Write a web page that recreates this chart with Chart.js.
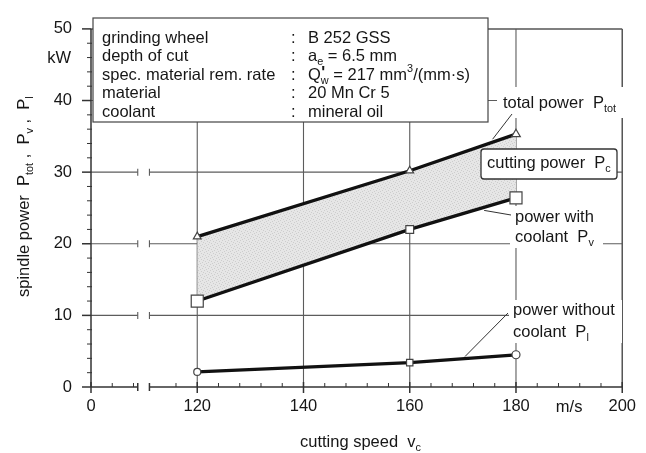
<!DOCTYPE html>
<html>
<head>
<meta charset="utf-8">
<script src="https://cdn.jsdelivr.net/npm/chart.js@4/dist/chart.umd.min.js"></script>
<style>
  html, body { margin: 0; padding: 0; background: #fff; }
  #wrap { width: 646px; height: 453px; }
</style>
</head>
<body>
<div id="wrap"><canvas id="c" width="646" height="453"></canvas></div>
<script>
// ---- data ----
const speeds = [120, 160, 180];                 // cutting speed v_c, m/s
const totalPower = [21.0, 30.2, 35.3];          // P_tot, kW
const powerWithCoolant = [12.0, 22.0, 26.4];    // P_v, kW
const powerWithoutCoolant = [2.1, 3.4, 4.5];    // P_l, kW

// x axis is broken: the scale value 100 carries the label "0"
const xTickValues = [100, 120, 140, 160, 180, 200];
const xTickLabels = ['0', '120', '140', '160', '180', '200'];
const yTickValues = [0, 10, 20, 30, 40, 50];
const yTickLabels = ['0', '10', '20', '30', '40', '50'];
const xBreak = [108.8, 111.0];

const paramNames = ['grinding wheel', 'depth of cut', 'spec. material rem. rate', 'material', 'coolant'];
const paramValues = [
  [{ t: 'B 252 GSS' }],
  [{ t: 'a' }, { t: 'e', sub: true }, { t: ' = 6.5 mm' }],
  [{ t: 'Q' }, { t: '\'', prime: true, stack: true }, { t: 'w', sub: true }, { t: ' = 217 mm' }, { t: '3', sup: true }, { t: '/(mm\u00b7s)' }],
  [{ t: '20 Mn Cr 5' }],
  [{ t: 'mineral oil' }]
];

const FONT = '"Liberation Sans", Arial, Helvetica, sans-serif';
const FS = 16.5;
const INK = '#161616';

const canvas = document.getElementById('c');
const ctx0 = canvas.getContext('2d');

// stippled light-grey fill for the cutting-power band
function stipple() {
  const t = document.createElement('canvas');
  t.width = 6; t.height = 6;
  const g = t.getContext('2d');
  g.fillStyle = '#e6e6e6';
  g.fillRect(0, 0, 6, 6);
  g.fillStyle = '#cdcdcd';
  [[0, 0], [3, 1], [1, 3], [5, 2], [4, 4], [2, 5]].forEach(([a, b]) => g.fillRect(a, b, 1, 1));
  return ctx0.createPattern(t, 'repeat');
}

function pts(values) {
  return speeds.map((s, i) => ({ x: s, y: values[i] }));
}

// value of a series at an arbitrary speed (for leader-line anchors)
function along(values, v) {
  for (let i = 0; i < speeds.length - 1; i++) {
    if (v >= speeds[i] && v <= speeds[i + 1]) {
      const f = (v - speeds[i]) / (speeds[i + 1] - speeds[i]);
      return values[i] + f * (values[i + 1] - values[i]);
    }
  }
  return values[values.length - 1];
}

function rich(ctx, parts, x, y, size) {
  let cx = x;
  for (const p of parts) {
    const small = p.sub || p.sup;
    const s = small ? size * 0.66 : size;
    ctx.font = `${p.prime ? 'bold ' : ''}${s}px ${FONT}`;
    let dy = p.sub ? size * 0.34 : (p.sup ? -size * 0.36 : 0);
    if (p.prime) dy = -size * 0.12;
    ctx.fillText(p.t, cx + (p.stack ? 0.5 : 0), y + dy);
    if (!p.stack) cx += ctx.measureText(p.t).width;
  }
  return cx - x;
}

function line(ctx, x1, y1, x2, y2) {
  ctx.beginPath();
  ctx.moveTo(x1, y1);
  ctx.lineTo(x2, y2);
  ctx.stroke();
}

// horizontal line across the plot, interrupted at the axis break
function hBroken(ctx, X, py, bar) {
  const a = X(100), b1 = X(xBreak[0]), b2 = X(xBreak[1]), e = X(200);
  line(ctx, a, py, b1, py);
  line(ctx, b2, py, e, py);
  line(ctx, b1, py - bar, b1, py + bar);
  line(ctx, b2, py - bar, b2, py + bar);
}

const decor = {
  id: 'decor',
  beforeDraw(chart) {
    const { ctx } = chart;
    const xs = chart.scales.x, ys = chart.scales.y;
    const X = v => xs.getPixelForValue(v);
    const Y = v => ys.getPixelForValue(v);
    ctx.save();
    ctx.fillStyle = '#fff';
    ctx.fillRect(0, 0, chart.width, chart.height);

    // grid
    ctx.strokeStyle = '#5c5c5c';
    ctx.lineWidth = 1.1;
    [10, 20, 30, 40].forEach(v => hBroken(ctx, X, Y(v), 3.5));
    [120, 140, 160, 180].forEach(v => line(ctx, X(v), Y(0), X(v), Y(50)));

    // frame: top and right
    ctx.strokeStyle = '#555';
    ctx.lineWidth = 1.5;
    hBroken(ctx, X, Y(50), 3);
    line(ctx, X(200), Y(0), X(200), Y(50));

    // y axis
    ctx.strokeStyle = '#333';
    ctx.lineWidth = 1.5;
    line(ctx, X(100), Y(0), X(100), Y(50));
    yTickValues.forEach(v => line(ctx, X(100) - 9, Y(v), X(100), Y(v)));
    ctx.lineWidth = 1;
    for (let v = 2; v < 50; v += 2) {
      if (v % 10) line(ctx, X(100) - 4, Y(v), X(100) + 1, Y(v));
    }

    // x axis with break
    ctx.lineWidth = 1.5;
    hBroken(ctx, X, Y(0), 4);
    xTickValues.forEach(v => line(ctx, X(v), Y(0) - 5, X(v), Y(0) + 6));
    ctx.lineWidth = 1;
    for (let v = 104; v < 200; v += 4) {
      if (v % 20 === 0) continue;
      if (v > xBreak[0] && v < xBreak[1] + 1.5) continue;
      line(ctx, X(v), Y(0) - 4, X(v), Y(0));
    }
    ctx.restore();
  },
  afterDatasetsDraw(chart) {
    const { ctx } = chart;
    const xs = chart.scales.x, ys = chart.scales.y;
    const X = v => xs.getPixelForValue(v);
    const Y = v => ys.getPixelForValue(v);
    ctx.save();
    ctx.textBaseline = 'middle';
    ctx.textAlign = 'left';
    ctx.fillStyle = INK;

    // ---- parameter box ----
    ctx.fillStyle = '#fff';
    ctx.fillRect(93, 18, 395, 104);
    ctx.strokeStyle = '#444';
    ctx.lineWidth = 1.2;
    ctx.strokeRect(93, 18, 395, 104);
    ctx.fillStyle = INK;
    paramNames.forEach((n, i) => {
      const ry = 38 + i * 18.5;
      ctx.font = `${FS}px ${FONT}`;
      ctx.fillText(n, 102, ry);
      ctx.fillText(':', 291, ry);
      rich(ctx, paramValues[i], 308, ry, FS);
    });

    // ---- total power ----
    ctx.fillStyle = '#fff';
    ctx.fillRect(497, 87, 131, 31);
    ctx.fillStyle = INK;
    rich(ctx, [{ t: 'total power  P' }, { t: 'tot', sub: true }], 503, 103, FS);
    ctx.strokeStyle = '#333';
    ctx.lineWidth = 1;
    line(ctx, 512, 114, X(175.6), Y(along(totalPower, 175.6)) - 3);

    // ---- cutting power box ----
    ctx.fillStyle = '#fff';
    ctx.strokeStyle = '#333';
    ctx.lineWidth = 1.3;
    ctx.beginPath();
    ctx.roundRect(481, 149, 136, 30, 3);
    ctx.fill();
    ctx.stroke();
    ctx.fillStyle = INK;
    rich(ctx, [{ t: 'cutting power  P' }, { t: 'c', sub: true }], 487, 163, FS);

    // ---- power with coolant ----
    ctx.fillStyle = '#fff';
    ctx.fillRect(510, 206, 93, 42);
    ctx.fillStyle = INK;
    ctx.font = `${FS}px ${FONT}`;
    ctx.fillText('power with', 515, 217);
    rich(ctx, [{ t: 'coolant  P' }, { t: 'v', sub: true }], 515, 237, FS);
    ctx.strokeStyle = '#333';
    ctx.lineWidth = 1;
    line(ctx, X(174), Y(along(powerWithCoolant, 174)) + 3, 511, 215);

    // ---- power without coolant ----
    ctx.fillStyle = '#fff';
    ctx.fillRect(509, 300, 113, 43);
    ctx.fillStyle = INK;
    ctx.font = `${FS}px ${FONT}`;
    ctx.fillText('power without', 513, 310);
    rich(ctx, [{ t: 'coolant  P' }, { t: 'l', sub: true }], 513, 332, FS);
    line(ctx, X(170.4), Y(along(powerWithoutCoolant, 170.4)) - 2, 508, 313);

    // ---- units and axis titles ----
    ctx.font = `${FS}px ${FONT}`;
    ctx.textAlign = 'right';
    ctx.fillText('kW', 71, 58);
    ctx.textAlign = 'center';
    ctx.fillText('m/s', X(190), 407);
    ctx.textAlign = 'left';
    rich(ctx, [{ t: 'cutting speed  v' }, { t: 'c', sub: true }], 300, 442, FS);

    ctx.save();
    ctx.translate(24, 297);
    ctx.rotate(-Math.PI / 2);
    rich(ctx, [
      { t: 'spindle power  P' }, { t: 'tot', sub: true },
      { t: ' ,  P' }, { t: 'v', sub: true },
      { t: ' ,  P' }, { t: 'l', sub: true }
    ], 0, 0, FS);
    ctx.restore();

    ctx.restore();
  }
};

const markerCommon = {
  borderColor: '#111',
  borderWidth: 3.3,
  pointBackgroundColor: '#fff',
  pointBorderColor: '#444',
  pointBorderWidth: 1.2,
  tension: 0
};

new Chart(canvas, {
  type: 'line',
  data: {
    datasets: [
      Object.assign({
        label: 'total power',
        data: pts(totalPower),
        fill: '+1',
        backgroundColor: stipple(),
        pointStyle: 'triangle',
        pointRadius: [4.5, 4.5, 5]
      }, markerCommon),
      Object.assign({
        label: 'power with coolant',
        data: pts(powerWithCoolant),
        fill: false,
        pointStyle: 'rect',
        pointRadius: [8.5, 5.5, 8.5]
      }, markerCommon),
      Object.assign({
        label: 'power without coolant',
        data: pts(powerWithoutCoolant),
        fill: false,
        pointStyle: ['circle', 'rect', 'circle'],
        pointRadius: [3.5, 4.5, 4]
      }, markerCommon)
    ]
  },
  options: {
    responsive: false,
    devicePixelRatio: 1,
    animation: false,
    layout: { padding: { left: 0, top: 17, right: 16, bottom: 0 } },
    plugins: {
      legend: { display: false },
      tooltip: { enabled: false },
      filler: { drawTime: 'beforeDatasetsDraw' }
    },
    scales: {
      x: {
        type: 'linear',
        min: 100,
        max: 200,
        afterBuildTicks: s => { s.ticks = xTickValues.map(v => ({ value: v })); },
        afterFit: s => { s.height = 66; },
        grid: { display: false, drawTicks: false, tickLength: 0 },
        border: { display: false },
        ticks: {
          autoSkip: false,
          maxRotation: 0,
          padding: 10,
          color: INK,
          font: { family: FONT, size: FS },
          callback: (v, i) => xTickLabels[i]
        }
      },
      y: {
        type: 'linear',
        min: 0,
        max: 50,
        afterBuildTicks: s => { s.ticks = yTickValues.map(v => ({ value: v })); },
        afterFit: s => { s.width = 91; },
        grid: { display: false, drawTicks: false, tickLength: 0 },
        border: { display: false },
        ticks: {
          autoSkip: false,
          padding: 19,
          color: INK,
          font: { family: FONT, size: FS },
          callback: (v, i) => yTickLabels[i]
        }
      }
    }
  },
  plugins: [decor]
});
</script>
</body>
</html>
